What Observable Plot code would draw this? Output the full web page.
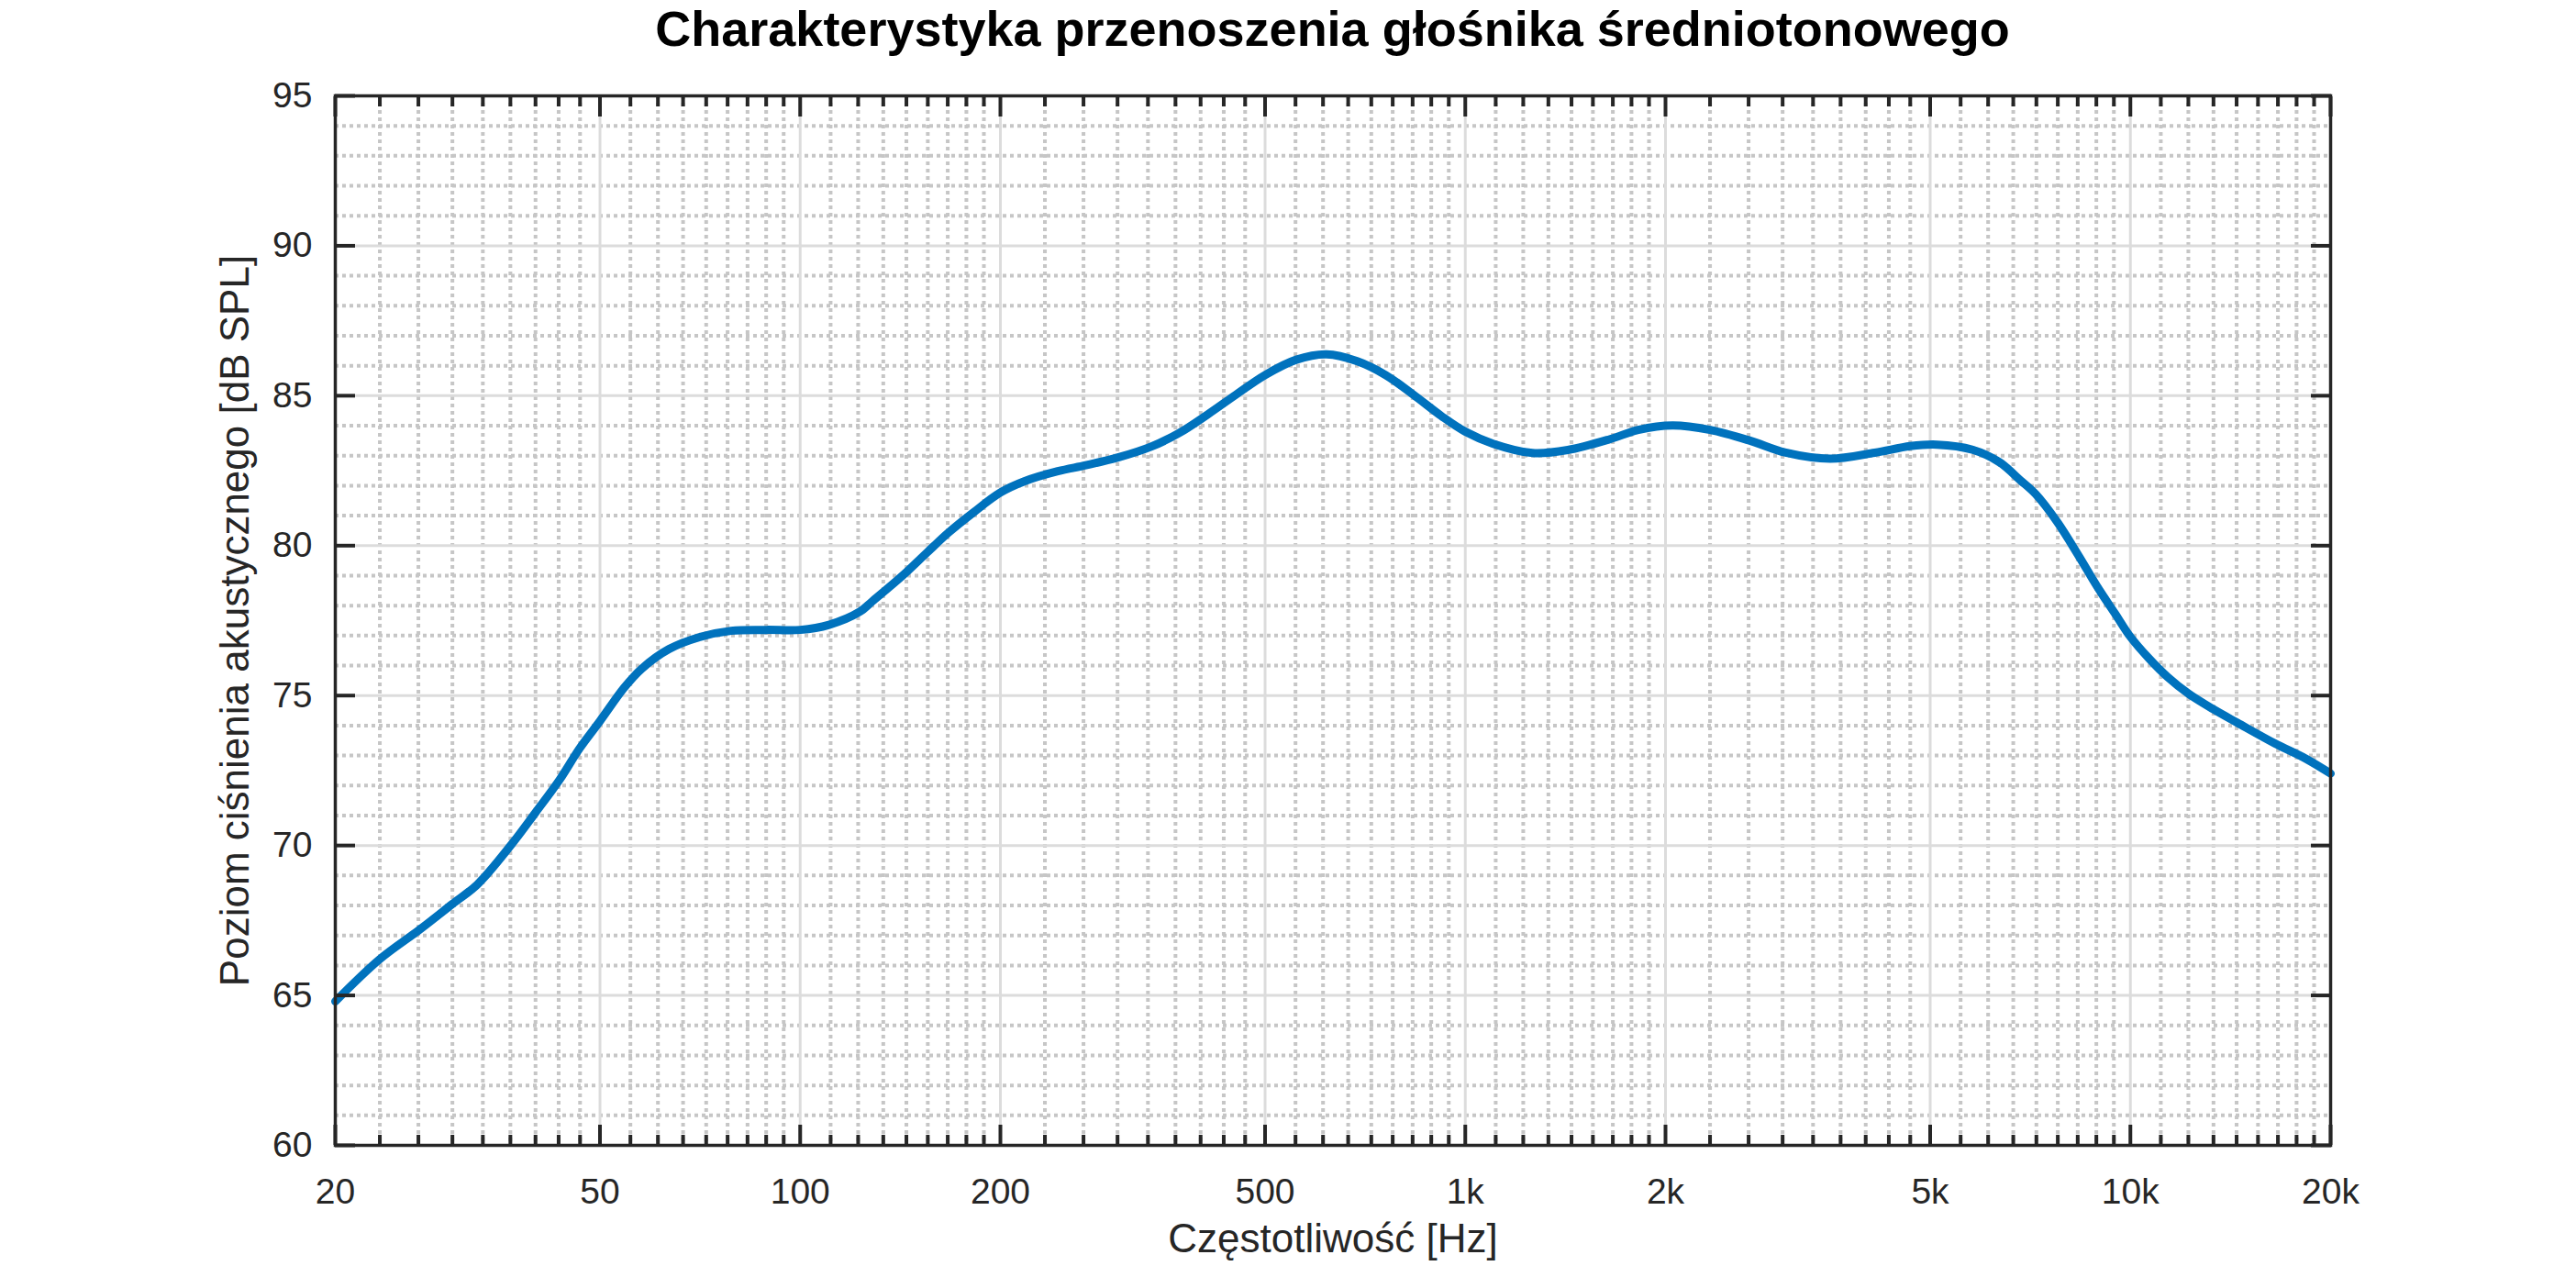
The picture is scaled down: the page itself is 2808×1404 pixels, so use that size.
<!DOCTYPE html>
<html>
<head>
<meta charset="utf-8">
<script src="https://cdn.jsdelivr.net/npm/d3@7"></script>
<script src="https://cdn.jsdelivr.net/npm/@observablehq/plot@0.6"></script>
<style>
  html, body { margin: 0; padding: 0; background: #ffffff; }
  #title {
    box-sizing: border-box;
    width: 2540px;
    padding-left: 365px;
    height: 60px;
    line-height: 62px;
    text-align: center;
    font-family: "Liberation Sans", Arial, Helvetica, sans-serif;
    font-weight: bold;
    font-size: 54px;
    color: #000000;
    white-space: nowrap;
    overflow: visible;
  }
  #chart svg { display: block; }
</style>
</head>
<body>
<div id="title">Charakterystyka przenoszenia głośnika średniotonowego</div>
<div id="chart"></div>
<script>
// Frequency [Hz] and SPL [dB]
const freq = [20, 23.3, 26.8, 30, 32.7, 36.7, 40, 43.5, 46.6, 50, 54.4, 57.8, 63.5, 70.6, 78.7, 89, 100,
  110.5, 123, 128.3, 142.7, 155.3, 167.2, 182, 200, 217.6, 243.9, 268.8, 300.6, 337, 371.6, 409.6, 451.8, 500, 557, 618.6,
  688, 759, 836, 921, 1000, 1101, 1262, 1426, 1650, 1820, 2050, 2334, 2680, 3033, 3538, 4128, 4667, 5118,
  5790, 6349, 6833, 7203, 7757, 8356, 8905, 9486, 10000, 10662, 11360, 12234, 13314, 14492, 16502, 18377, 20000];
const spl = [64.8, 66.2, 67.2, 68.05, 68.7, 70.0, 71.1, 72.2, 73.24, 74.15, 75.27, 75.9, 76.55, 76.95, 77.16, 77.19, 77.19,
  77.36, 77.8, 78.14, 79.01, 79.78, 80.44, 81.1, 81.77, 82.15, 82.48, 82.68, 82.94, 83.3, 83.76, 84.37, 85.03, 85.69, 86.2, 86.38,
  86.15, 85.69, 85.03, 84.32, 83.8, 83.4, 83.09, 83.19, 83.55, 83.86, 84.01, 83.86, 83.5, 83.1, 82.9, 83.1, 83.32, 83.37,
  83.2, 82.79, 82.18, 81.72, 80.8, 79.67, 78.65, 77.73, 76.96, 76.24, 75.63, 75.06, 74.55, 74.09, 73.4, 72.89, 72.4];

// Axis ticks and labels
const xTicks = [20, 50, 100, 200, 500, 1000, 2000, 5000, 10000, 20000];
const xTickLabels = ["20", "50", "100", "200", "500", "1k", "2k", "5k", "10k", "20k"];
const yTicks = [60, 65, 70, 75, 80, 85, 90, 95];

const xLabel = "Częstotliwość [Hz]";
const yLabel = "Poziom ciśnienia akustycznego [dB SPL]";

// Minor ticks: 8 evenly spaced subdivisions between consecutive major ticks
const xMinor = [];
for (let i = 0; i < xTicks.length - 1; i++) {
  const a = xTicks[i], b = xTicks[i + 1];
  for (let k = 1; k <= 8; k++) xMinor.push(a + k * (b - a) / 9);
}
const yMinor = [];
for (let v = 60; v <= 95; v++) if (v % 5 !== 0) yMinor.push(v);

const data = freq.map((f, i) => ({f, s: spl[i]}));
const fmt = d => xTickLabels[xTicks.indexOf(d)];
const none = () => "";

const ink = "#262626";
const chart = Plot.plot({
  width: 2808,
  height: 1344,
  marginTop: 44,
  marginBottom: 156,
  marginLeft: 365,
  marginRight: 268,
  style: {fontFamily: '"Liberation Sans", Arial, Helvetica, sans-serif', fontSize: "39px", color: ink, background: "#ffffff"},
  x: {type: "log", domain: [20, 20000]},
  y: {domain: [60, 95]},
  marks: [
    Plot.ruleX(xMinor, {stroke: "#c6c6c6", strokeWidth: 4, strokeDasharray: "4,4"}),
    Plot.ruleY(yMinor, {stroke: "#c6c6c6", strokeWidth: 4, strokeDasharray: "4,4"}),
    Plot.ruleX(xTicks.slice(1, -1), {stroke: "#dcdcdc", strokeWidth: 3}),
    Plot.ruleY(yTicks.slice(1, -1), {stroke: "#dcdcdc", strokeWidth: 3}),
    Plot.line(data, {x: "f", y: "s", stroke: "#0072BD", strokeWidth: 9, curve: "catmull-rom"}),
    // tick labels
    Plot.axisX(xTicks, {anchor: "bottom", tickSize: 0, tickPadding: 36, tickFormat: fmt, label: null, fill: ink}),
    Plot.axisY(yTicks, {anchor: "left", tickSize: 0, tickPadding: 25, label: null, fill: ink}),
    // inward ticks
    Plot.axisX(xTicks, {anchor: "bottom", tickSize: -22, strokeWidth: 4, tickFormat: none, label: null}),
    Plot.axisX(xTicks, {anchor: "top", tickSize: -22, strokeWidth: 4, tickFormat: none, label: null}),
    Plot.axisX(xMinor, {anchor: "bottom", tickSize: -11, strokeWidth: 4, tickFormat: none, label: null}),
    Plot.axisX(xMinor, {anchor: "top", tickSize: -11, strokeWidth: 4, tickFormat: none, label: null}),
    Plot.axisY(yTicks, {anchor: "left", tickSize: -22, strokeWidth: 4, tickFormat: none, label: null}),
    Plot.axisY(yTicks, {anchor: "right", tickSize: -22, strokeWidth: 4, tickFormat: none, label: null}),
    Plot.frame({stroke: ink, strokeWidth: 3.5}),
    // axis titles
    Plot.text([xLabel], {frameAnchor: "bottom", dy: 102, lineAnchor: "middle", textAnchor: "middle", text: d => d, fontSize: 44, fill: ink}),
    Plot.text([yLabel], {frameAnchor: "left", dx: -109, rotate: -90, lineAnchor: "middle", textAnchor: "middle", text: d => d, fontSize: 44, fill: ink})
  ]
});
document.getElementById("chart").appendChild(chart);
</script>
</body>
</html>
